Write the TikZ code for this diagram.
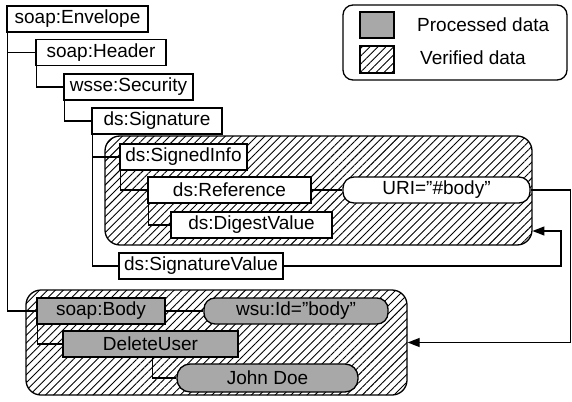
\documentclass[tikz,border=0pt]{standalone}
\usepackage{fontspec}
\setmainfont{Liberation Sans}
\usetikzlibrary{patterns.meta,arrows.meta}
\definecolor{procgray}{gray}{0.66}
\tikzset{
  elem/.style={draw, line width=1.3pt, fill=white, inner sep=0pt, minimum height=26pt, font=\fontsize{19}{21}\selectfont},
  attr/.style={elem, rounded corners=11pt},
  proc/.style={fill=procgray},
  hatch/.style={draw, line width=1.3pt, rounded corners=15pt, inner sep=0pt, pattern={Lines[angle=45,distance=5.6pt,line width=0.9pt]}},
  link/.style={line width=1.3pt},
  arr/.style={link, -{Triangle[length=12pt,width=9pt]}},
}
\begin{document}
\begin{tikzpicture}[x=1pt,y=-1pt]
        \useasboundingbox (0,0) rectangle (572,401);

        \node[hatch, minimum width=427pt, minimum height=109pt] (sigbox) at (318.5,190.5) {};
        \node[hatch, minimum width=381pt, minimum height=105pt] (bodybox) at (216.5,342.5) {};

        \node[elem, minimum width=141pt] (env) at (77.5,19) {soap:Envelope};
        \node[elem, minimum width=130pt] (head) at (101,52.5) {soap:Header};
        \node[elem, minimum width=129pt] (sec) at (128.5,87) {wsse:Security};
        \node[elem, minimum width=130pt] (sig) at (157,121) {ds:Signature};
        \node[elem, minimum width=127pt] (sinfo) at (183.5,157) {ds:SignedInfo};
        \node[elem, minimum width=163pt] (ref) at (229.5,190) {ds:Reference};
        \node[elem, minimum width=161pt] (dig) at (251.5,225) {ds:DigestValue};
        \node[elem, minimum width=164pt] (sval) at (201,266) {ds:SignatureValue};
        \node[attr, minimum width=187pt] (uri) at (436.5,190) {URI="\#body"};

        \node[elem, proc, minimum width=128pt] (body) at (101,311) {soap:Body};
        \node[attr, proc, minimum width=184pt] (wsu) at (296,311) {wsu:Id="body"};
        \node[elem, proc, minimum width=175pt] (del) at (150.5,344) {DeleteUser};
        \node[attr, proc, minimum width=181pt, minimum height=28pt, rounded corners=13pt] (john) at (267.5,378) {John Doe};

        \draw[link] ([xshift=1pt]env.south west) |- (head.west);
        \draw[link] ([xshift=1pt]env.south west) |- (body.west);
        \draw[link] ([xshift=1pt]head.south west) |- (sec.west);
        \draw[link] ([xshift=1pt]sec.south west) |- (sig.west);
        \draw[link] ([xshift=1pt]sig.south west) |- (sinfo.west);
        \draw[link] ([xshift=1pt]sig.south west) |- (sval.west);
        \draw[link] ([xshift=1pt]sinfo.south west) |- (ref.west);
        \draw[link] ([xshift=1pt]ref.south west) |- (dig.west);
        \draw[link] (ref) -- (uri);
        \draw[link] (body) -- (wsu);
        \draw[link] ([xshift=1pt]body.south west) |- (del.west);
        \draw[link] ([xshift=2pt]del.south) |- (john.west);

        \coordinate (rail) at (570.5,0);
        \coordinate (sigin) at (561,231);
        \draw[arr] (uri.east) -- (uri.east -| rail) |- (bodybox.east);
        \draw[arr] (sval.east) -| (sigin) -- (sigin -| sigbox.east);

        \node[draw, line width=1.3pt, rounded corners=10pt, minimum width=224pt, minimum height=75pt] (legend) at (455,42.5) {};
        \node[draw, line width=1.3pt, fill=procgray, inner sep=0pt, minimum width=34pt, minimum height=26pt] (procbox) at (377,25) {};
        \node[hatch, rounded corners=0pt, minimum width=34pt, minimum height=27pt] (verbox) at (377,59.5) {};
        \node[anchor=west, inner sep=0pt, font=\fontsize{19}{21}\selectfont] (proclabel) at (417,25) {Processed data};
        \node[anchor=west, inner sep=0pt, font=\fontsize{19}{21}\selectfont] (verlabel) at (420,58) {Verified data};
\end{tikzpicture}
\end{document}
